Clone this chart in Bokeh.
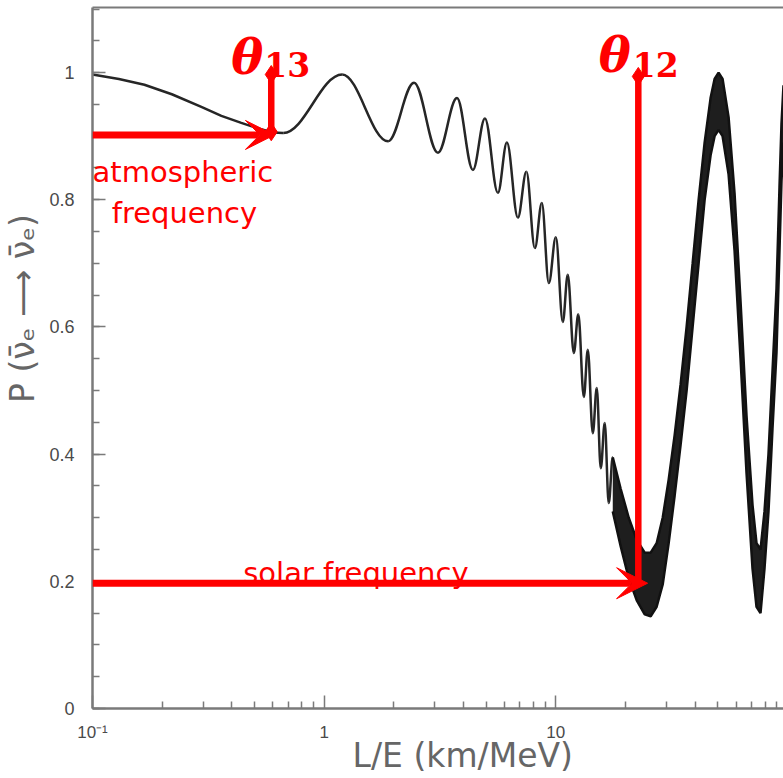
import numpy as np
from bokeh.plotting import figure
from bokeh.models import (Range1d, FixedTicker, CustomJSTickFormatter, Arrow, VeeHead,
                          Label, LogAxis)
from bokeh.embed import file_html
from bokeh.resources import INLINE

# ---------------- data ----------------
# slow decline before the first atmospheric minimum
head_x = [0.1, 0.13, 0.1675, 0.22, 0.295, 0.36, 0.4387, 0.52, 0.6, 0.666]
head_y = [0.997, 0.99, 0.981, 0.966, 0.946, 0.932, 0.921, 0.912, 0.906, 0.905]

# successive extrema of the atmospheric oscillation (min, max, min, ...)
ext_x = [0.666, 1.196, 1.888, 2.443, 3.099, 3.744, 4.387, 4.943, 5.623, 6.149,
         6.859, 7.462, 8.12, 8.70, 9.33, 10.0, 10.72, 11.26, 11.96, 12.5,
         13.21, 13.74, 14.44, 15.02, 15.63, 16.26, 16.92, 17.61]
ext_y = [0.905, 0.997, 0.892, 0.984, 0.874, 0.960, 0.847, 0.928, 0.811, 0.890,
         0.772, 0.844, 0.724, 0.795, 0.669, 0.741, 0.608, 0.682, 0.559, 0.62,
         0.49, 0.564, 0.433, 0.504, 0.378, 0.449, 0.323, 0.395]

# unresolved fast oscillation: upper / lower envelope of the dark band
band_x = [17.61, 19.06, 20.64, 22.35, 24.19, 25.67, 27.24, 28.93, 30.70, 32.58,
          34.57, 36.69, 38.95, 41.34, 43.88, 46.56, 48.45, 50.41, 52.46, 55.68,
          59.09, 62.71, 66.56, 70.64, 73.50, 76.48, 79.57, 82.80, 86.15, 89.65,
          92.36, 94.22, 96.11]
band_hi = [0.395, 0.345, 0.30, 0.265, 0.245, 0.245, 0.26, 0.30, 0.36, 0.43,
           0.51, 0.60, 0.70, 0.80, 0.89, 0.96, 0.99, 1.00, 0.99, 0.93,
           0.81, 0.64, 0.46, 0.32, 0.26, 0.25, 0.31, 0.40, 0.53, 0.66,
           0.82, 0.92, 0.98]
band_lo = [0.31, 0.255, 0.205, 0.17, 0.148, 0.145, 0.16, 0.195, 0.26, 0.335,
           0.415, 0.50, 0.60, 0.70, 0.80, 0.87, 0.90, 0.91, 0.90, 0.84,
           0.72, 0.55, 0.37, 0.22, 0.16, 0.15, 0.22, 0.31, 0.44, 0.56,
           0.72, 0.83, 0.89]

# annotation anchors
atm_y = 0.902
atm_tip = 0.61
theta13_x = 0.591
theta13_y = [0.907, 0.997]
solar_y = 0.197
solar_tip = 24.9
theta12_x = 22.7
theta12_y = [0.197, 0.994]

y_major = [0, 0.2, 0.4, 0.6, 0.8, 1.0]
y_minor = [round(0.05 * i, 2) for i in range(23)]
x_major = [0.1, 1, 10, 100]
x_minor = [m * d for d in (0.1, 1, 10) for m in range(2, 10)]

RED = "#ff0000"
AX = "#7a7a7a"
TXT = "#4a4a4a"

p = figure(width=783, height=778, x_axis_type="log",
           x_range=Range1d(0.1, 96.11), y_range=Range1d(0, 1.1024),
           output_backend="svg", toolbar_location=None,
           min_border_left=91, min_border_right=0, min_border_top=7,
           min_border_bottom=70)
p.outline_line_color = None
p.grid.visible = False
p.background_fill_color = "white"

# axes
p.xaxis.ticker = FixedTicker(ticks=x_major, minor_ticks=x_minor)
p.xaxis.formatter = CustomJSTickFormatter(code="""
if (tick < 0.5) return '10\u207b\u00b9';
if (tick < 5) return '1';
if (tick < 50) return '10';
return '10\u00b2';""")
p.yaxis.ticker = FixedTicker(ticks=y_major, minor_ticks=y_minor)
p.yaxis.formatter = CustomJSTickFormatter(code="return (Math.round(tick*10)/10).toString();")
for ax in (p.xaxis[0], p.yaxis[0]):
    ax.axis_line_color = AX
    ax.axis_line_width = 2.5
    ax.major_tick_line_color = AX
    ax.minor_tick_line_color = AX
    ax.major_tick_line_width = 1.5
    ax.minor_tick_line_width = 1.5
    ax.major_tick_in = 13
    ax.major_tick_out = 0
    ax.minor_tick_in = 7
    ax.minor_tick_out = 0
    ax.major_label_text_font = "Liberation Sans"
    ax.major_label_text_color = TXT
    ax.axis_label_text_font = "DejaVu Sans"
    ax.axis_label_text_font_style = "normal"
    ax.axis_label_text_color = "#666666"
p.yaxis.major_label_text_font_size = "18px"
p.xaxis.major_label_text_font_size = "17px"
p.yaxis.major_label_standoff = 18
p.xaxis.major_label_standoff = 14

p.xaxis.axis_label = "\u2003\u2002L/E (km/MeV)"
p.xaxis.axis_label_text_font_size = "33px"
p.xaxis.axis_label_standoff = -9
p.yaxis.axis_label = "\u2003\u2003\u2003P (\u03bd\u0304\u2091 \u27f6 \u03bd\u0304\u2091)"
p.yaxis.axis_label_text_font_size = "33px"
p.yaxis.axis_label_standoff = 4

top = LogAxis(ticker=FixedTicker(ticks=[]), axis_line_color=AX, axis_line_width=2,
              major_tick_out=0, major_tick_in=0, minor_tick_out=0, minor_tick_in=0,
              major_label_standoff=0, major_label_text_font_size="0px")
p.add_layout(top, "above")

# curve: slow head
p.line(head_x, head_y, line_color="#262626", line_width=2.5)

# curve: resolved oscillation, smooth half-waves between extrema
k = 0.3642
x0 = np.array(ext_x[:-1]); x1 = np.array(ext_x[1:])
y0 = np.array(ext_y[:-1]); y1 = np.array(ext_y[1:])
p.bezier(x0=x0, y0=y0, x1=x1, y1=y1,
         cx0=x0 * (x1 / x0) ** k, cy0=y0,
         cx1=x1 * (x0 / x1) ** k, cy1=y1,
         line_color="#262626", line_width=2.5)

# curve: unresolved band
p.varea(x=band_x, y1=band_lo, y2=band_hi, fill_color="#1e1e1e")
p.line(band_x, band_hi, line_color="#111111", line_width=2.5)
p.line(band_x, band_lo, line_color="#111111", line_width=2.5)

# red annotations
p.add_layout(Arrow(end=VeeHead(size=29, fill_color=RED, line_color=RED),
                   x_start=0.1, y_start=atm_y, x_end=atm_tip, y_end=atm_y,
                   line_color=RED, line_width=7))
p.add_layout(Arrow(end=VeeHead(size=31, fill_color=RED, line_color=RED),
                   x_start=0.1, y_start=solar_y, x_end=solar_tip, y_end=solar_y,
                   line_color=RED, line_width=7))
p.segment(x0=[theta13_x, theta12_x], y0=[theta13_y[0], theta12_y[0]],
          x1=[theta13_x, theta12_x], y1=[theta13_y[1], theta12_y[1]],
          line_color=RED, line_width=6.5)
p.scatter([theta13_x, theta13_x, theta12_x], [theta13_y[0], theta13_y[1], theta12_y[1]],
          marker="diamond", size=18, color=RED)

def lab(x, y, text, size, font="DejaVu Sans", style="normal", color=RED,
        align="left", baseline="alphabetic"):
    p.add_layout(Label(x=x, y=y, text=text, text_font=font, text_font_size=size,
                       text_font_style=style, text_color=color, text_align=align,
                       text_baseline=baseline))

lab(0.397, 1.025, "\u03b8", "48px", font="DejaVu Serif", style="bold italic")
lab(0.551, 1.0126, "13", "33px", font="DejaVu Serif", style="bold")
lab(15.32, 1.028, "\u03b8", "48px", font="DejaVu Serif", style="bold italic")
lab(21.47, 1.0126, "12", "33px", font="DejaVu Serif", style="bold")
lab(0.1, 0.844, "atmospheric", "29px")
lab(0.2493, 0.7795, "frequency", "29px", align="center")
lab(0.4475, 0.2126, "solar frequency", "29px")

open("out.html", "w").write(file_html(p, INLINE))
